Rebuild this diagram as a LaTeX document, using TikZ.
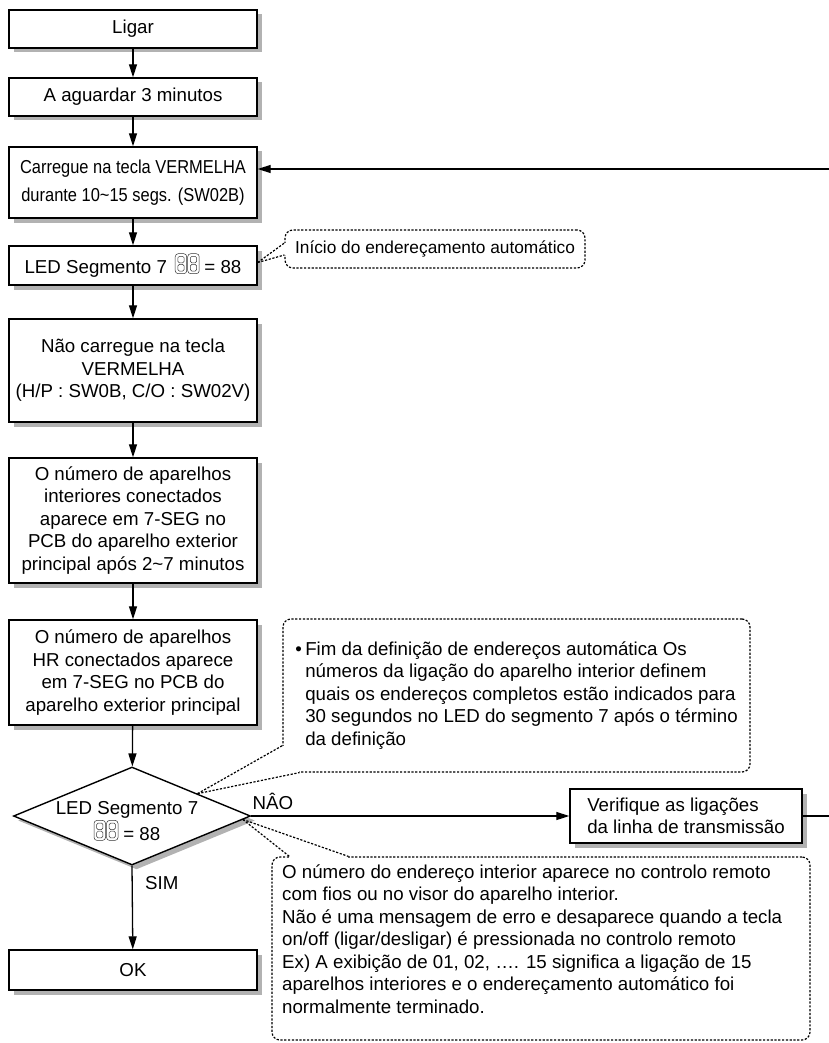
\documentclass[tikz,border=0pt]{standalone}
\usepackage{fontspec}
\setmainfont{Liberation Sans}
\usepackage{graphicx}
\usetikzlibrary{arrows.meta,shadows,shapes.geometric,calc}
\definecolor{shade}{RGB}{178,178,178}
\newcommand{\segglyph}{\tikz[baseline=-2pt,x=1pt,y=1pt,line width=0.5pt]{%
  \foreach \dx in {0,12.5}{%
    \draw[black!80,rounded corners=3pt] (\dx,-2) rectangle ++(11.5,20);
    \draw[black!80,rounded corners=1.5pt] (\dx+2.6,0.6) rectangle ++(6.3,6.6);
    \draw[black!80,rounded corners=1.5pt] (\dx+2.6,8.8) rectangle ++(6.3,6.6);
  }}}
\begin{document}
\begin{tikzpicture}[x=1pt,y=-1pt,
  txt/.style={font=\fontsize{18.7}{22.5}\selectfont},
  shadowed/.style={drop shadow={shadow xshift=4.5pt,shadow yshift=-4.5pt,fill=shade,opacity=1}},
  box/.style={draw, line width=1.4pt, fill=white, minimum width=248pt, inner sep=0pt, align=center, txt, shadowed},
  arr/.style={line width=1.3pt,-{Triangle[length=13pt,width=8pt]}},
  plain/.style={line width=1.3pt},
  note/.style={draw, line width=1.2pt, dash pattern=on 2.2pt off 1.6pt, rounded corners=8pt, inner sep=0pt, align=left, txt},
  ptr/.style={line width=1.2pt, dash pattern=on 2.2pt off 1.6pt},
  lbl/.style={txt, inner sep=0pt}
]
\useasboundingbox (0,0) rectangle (828,1043);

% main column
\node[box, minimum height=38pt] (ligar) at (133,29) {Ligar};
\node[box, minimum height=38pt] (wait) at (133,97) {A aguardar 3 minutos};
\node[box, minimum height=71pt, font=\fontsize{18.7}{28}\selectfont] (press) at (133,182.5)
  {\scalebox{0.88}[1]{Carregue na tecla VERMELHA}\\\scalebox{0.88}[1]{durante 10\textasciitilde15 segs. (SW02B)}};
\node[box, minimum height=39pt] (led) at (133,265.5) {LED Segmento 7\hspace{8pt}\segglyph\hspace{5pt}= 88};
\node[box, minimum height=103pt] (nopress) at (133,370.5)
  {Não carregue na tecla\\VERMELHA\\(H/P : SW0B, C/O : SW02V)};
\node[box, minimum height=125pt] (count) at (133,520.5)
  {O número de aparelhos\\interiores conectados\\aparece em 7-SEG no\\PCB do aparelho exterior\\principal após 2\textasciitilde7 minutos};
\node[box, minimum height=105pt] (hr) at (133,672.5)
  {O número de aparelhos\\HR conectados aparece\\em 7-SEG no PCB do\\aparelho exterior principal};
\node[diamond, draw, line width=1.4pt, fill=white, minimum width=237pt, minimum height=98pt, inner sep=0pt, shadowed] (dec) at (132,816) {};
\node[lbl, align=center, font=\fontsize{18.7}{26}\selectfont] (dectxt) at (127,821) {LED Segmento 7\\\segglyph\hspace{5pt}= 88};
\node[box, minimum height=40pt] (ok) at (133,970) {OK};
\node[box, minimum width=232pt, minimum height=54pt, align=left] (ver) at (686,816)
  {Verifique as ligações\\da linha de transmissão};

% arrows
\draw[arr] (ligar) -- (wait);
\draw[arr] (wait) -- (press);
\draw[arr] (press) -- (led);
\draw[arr] (led) -- (nopress);
\draw[arr] (nopress) -- (count);
\draw[arr] (count) -- (hr);
\draw[arr] (hr) -- (dec);
\draw[arr] (dec.south) -- (ok);
\node[lbl, anchor=west] (sim) at (145,883) {SIM};
\draw[arr] (dec.east) -- (ver.west);
\node[lbl] (nao) at (273,801) {NÂO};
\coordinate (ret) at (834,169);
\draw[plain] (ver.east) -| (ret);
\draw[arr] (ret) -- (press.east |- ret);

% callouts
\node[note, minimum width=300pt, minimum height=38pt, align=center, font=\fontsize{17.3}{21}\selectfont] (c1) at (435,249) {Início do endereçamento automático};
\node[note, minimum width=467pt, minimum height=153pt] (c2) at (516.5,695.5)
  {\makebox[10pt][l]{•}Fim da definição de endereços automática Os\\
   \hspace*{10pt}números da ligação do aparelho interior definem\\
   \hspace*{10pt}quais os endereços completos estão indicados para\\
   \hspace*{10pt}30 segundos no LED do segmento 7 após o término\\
   \hspace*{10pt}da definição};
\node[note, minimum width=538pt, minimum height=183pt] (c3) at (541,948.5) {};
\node[lbl, align=left, anchor=west] (c3t) at (282,939)
  {O número do endereço interior aparece no controlo remoto\\
   com fios ou no visor do aparelho interior.\\
   Não é uma mensagem de erro e desaparece quando a tecla\\
   on/off (ligar/desligar) é pressionada no controlo remoto\\
   Ex) A exibição de 01, 02, …. 15 significa a ligação de 15\\
   aparelhos interiores e o endereçamento automático foi\\
   normalmente terminado.};

% pointers
\coordinate (a1) at ($(led.east)+(0,-3)$);
\coordinate (p1a) at ($(c1.west)+(0,-6)$);
\coordinate (p1b) at ($(c1.west)+(0,6)$);
\fill[white] ($(p1a)+(-1.5,0)$) rectangle ($(p1b)+(1.5,0)$);
\draw[ptr] (a1) -- (p1a);
\draw[ptr] (a1) -- (p1b);

\coordinate (a2) at ($(dec.north)!0.55!(dec.east)$);
\coordinate (p2a) at ($(c2.south west)+(0,-27)$);
\coordinate (p2b) at ($(c2.south west)+(17,0)$);
\fill[white] ($(c2.south west)+(-1.5,-27)$) rectangle ($(c2.south west)+(17,1.5)$);
\draw[ptr] (a2) -- (p2a);
\draw[ptr] (a2) -- (p2b);

\coordinate (a3) at ($(dec.east)!0.07!(dec.south)$);
\coordinate (p3a) at ($(c3.north west)+(18,0)$);
\coordinate (p3b) at ($(c3.north west)+(77,0)$);
\fill[white] ($(p3a)+(0,-1.5)$) rectangle ($(p3b)+(0,1.5)$);
\draw[ptr] (a3) -- (p3a);
\draw[ptr] (a3) -- (p3b);
\end{tikzpicture}
\end{document}
